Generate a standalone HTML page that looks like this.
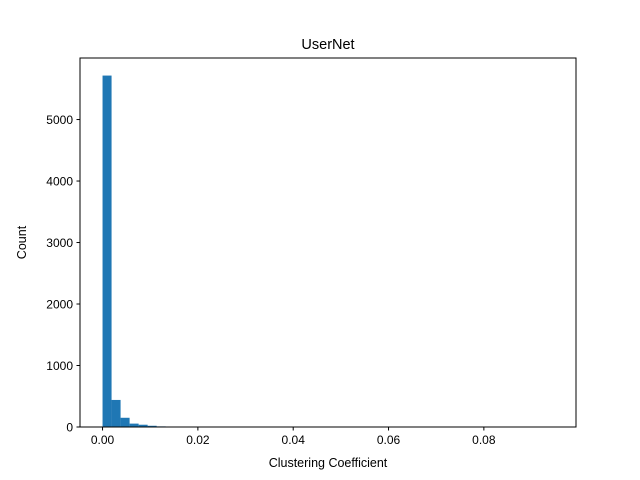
<!DOCTYPE html>
<html><head><meta charset="utf-8"><style>body{margin:0;background:#fff}svg{display:block;font-family:"Liberation Sans","DejaVu Sans",sans-serif}</style></head>
<body>
<svg id="c" width="640" height="480">
<rect width="640" height="480" fill="#fff"/>
<text x="328" y="49" font-size="14.5" text-anchor="middle">UserNet</text>
<g id="bars"></g>
<g id="axes"></g>
<rect x="80" y="58" width="496" height="369" fill="none" stroke="#000" stroke-width="1"/>
<text x="328" y="467" font-size="12.5" text-anchor="middle">Clustering Coefficient</text>
<text x="26" y="242.5" font-size="12.5" text-anchor="middle" transform="rotate(-90 26 242.5)">Count</text>
</svg>
<script>
const binCounts=[5715,440,150,55,37,20,10,6,4,3,2,2,1,1,1,0,1,0,0,1,0,0,0,0,0,0,0,0,0,0,0,0,0,0,0,0,0,0,0,0,0,0,0,0,0,0,0,0,0,1];
const dataMin=0, dataMax=0.0946;
const xTicks=[0,0.02,0.04,0.06,0.08];
const xTickLabels=["0.00","0.02","0.04","0.06","0.08"];
const yTicks=[0,1000,2000,3000,4000,5000];
const yTickLabels=["0","1000","2000","3000","4000","5000"];
const NS="http://www.w3.org/2000/svg";
const L=80,R=576,T=58,B=427;
const span=dataMax-dataMin, x0=dataMin-0.05*span, x1=dataMax+0.05*span;
const maxC=Math.max(...binCounts), yMax=maxC*1.05;
const xs=v=>L+(v-x0)/(x1-x0)*(R-L);
const ys=v=>B-v/yMax*(B-T);
const bars=document.getElementById('bars'), axes=document.getElementById('axes');
const bw=span/binCounts.length;
binCounts.forEach((c,i)=>{
  if(c<=0)return;
  const r=document.createElementNS(NS,'rect');
  const a=xs(dataMin+i*bw), b=xs(dataMin+(i+1)*bw);
  r.setAttribute('x',a);r.setAttribute('width',b-a);
  r.setAttribute('y',ys(c));r.setAttribute('height',B-ys(c));
  r.setAttribute('fill','#1f77b4');
  
  
  bars.appendChild(r);
});
function mk(tag,attrs,txt){const e=document.createElementNS(NS,tag);for(const k in attrs)e.setAttribute(k,attrs[k]);if(txt!==undefined)e.textContent=txt;axes.appendChild(e);return e;}
xTicks.forEach((v,i)=>{
  const x=xs(v);
  const t=mk('line',{x1:x,x2:x,y1:B,y2:B+3.5,stroke:'#000'});
  
  
  const l=mk('text',{x:x,y:B+17,'font-size':12,'text-anchor':'middle'},xTickLabels[i]);
  
  
});
yTicks.forEach((v,i)=>{
  const y=ys(v);
  const t=mk('line',{x1:L-3.5,x2:L,y1:y,y2:y,stroke:'#000'});
  
  
  const l=mk('text',{x:L-7,y:y+4.5,'font-size':12,'text-anchor':'end'},yTickLabels[i]);
  
  
});
</script>
</body></html>
